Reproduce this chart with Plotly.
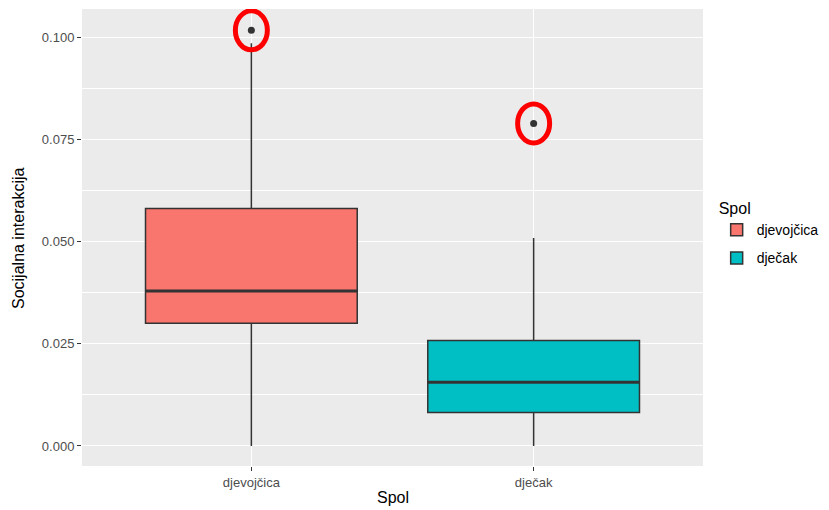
import plotly.graph_objects as go

categories = ["djevojčica", "dječak"]
colors = ["#F8766D", "#00BFC4"]
q1 = [0.0300, 0.0082]
median = [0.0379, 0.0156]
q3 = [0.0581, 0.0258]
lower = [0.0, 0.0]
upper = [0.0985, 0.0509]
outliers = [0.1017, 0.0789]
yticks = [0.0, 0.025, 0.05, 0.075, 0.1]
yticklabels = ["0.000", "0.025", "0.050", "0.075", "0.100"]
box_width = 0.75

fig = go.Figure()
for i, c in enumerate(categories):
    fig.add_trace(go.Box(
        x=[c], q1=[q1[i]], median=[median[i]], q3=[q3[i]],
        lowerfence=[lower[i]], upperfence=[upper[i]],
        name=c, fillcolor=colors[i], width=box_width,
        line=dict(color="#333333", width=1.5),
        whiskerwidth=0, boxpoints=False, hoverinfo="skip",
        legendgroup=c,
    ))
    # thicker median line as in ggplot
    fig.add_shape(type="line", xref="x", yref="y",
                  x0=i - box_width / 2, x1=i + box_width / 2,
                  y0=median[i], y1=median[i],
                  line=dict(color="#333333", width=3))
fig.add_trace(go.Scatter(
    x=categories, y=outliers, mode="markers",
    marker=dict(color="#333333", size=7), showlegend=False, hoverinfo="skip",
))
for c, o in zip(categories, outliers):
    fig.add_shape(type="circle", xref="x", yref="y",
                  xsizemode="pixel", ysizemode="pixel",
                  xanchor=c, yanchor=o,
                  x0=-16, x1=16, y0=-19.5, y1=19.5,
                  line=dict(color="#FF0000", width=5))

# axis titles as annotations for exact placement
fig.add_annotation(text="Spol", xref="paper", yref="paper", x=0.5, y=0,
                   xanchor="center", yanchor="top", yshift=-21, showarrow=False,
                   font=dict(size=16, color="#000000"))
fig.add_annotation(text="Socijalna interakcija", xref="paper", yref="paper",
                   x=0, y=0.5, xanchor="right", yanchor="middle", xshift=-53,
                   textangle=-90, showarrow=False,
                   font=dict(size=16, color="#000000"))

fig.update_layout(
    width=821, height=502,
    margin=dict(l=74, r=126, t=1, b=44, autoexpand=False),
    paper_bgcolor="white", plot_bgcolor="#EBEBEB",
    font=dict(family="Liberation Sans, Arial, sans-serif", color="#000000"),
    showlegend=True,
    legend=dict(title=dict(text="Spol", font=dict(size=16)), font=dict(size=14),
                x=1.022, y=0.508, xanchor="left", yanchor="middle",
                traceorder="grouped", tracegroupgap=7,
                bgcolor="rgba(0,0,0,0)"),
    xaxis=dict(type="category", categoryorder="array", categoryarray=categories,
               range=[-0.6, 1.6], showgrid=True, gridcolor="white", gridwidth=1.2,
               ticks="outside", ticklen=4, tickcolor="#333333",
               tickfont=dict(size=13, color="#4D4D4D"), zeroline=False,
               automargin=False),
    yaxis=dict(range=[-0.0049, 0.1069], tickvals=yticks, ticktext=yticklabels,
               showgrid=True, gridcolor="white", gridwidth=1.2,
               minor=dict(showgrid=True, gridcolor="white", gridwidth=0.6,
                          tick0=0, dtick=0.0125),
               ticks="outside", ticklen=4, tickcolor="#333333",
               tickfont=dict(size=13, color="#4D4D4D"), zeroline=False,
               automargin=False),
)

fig.write_html("out.html")
